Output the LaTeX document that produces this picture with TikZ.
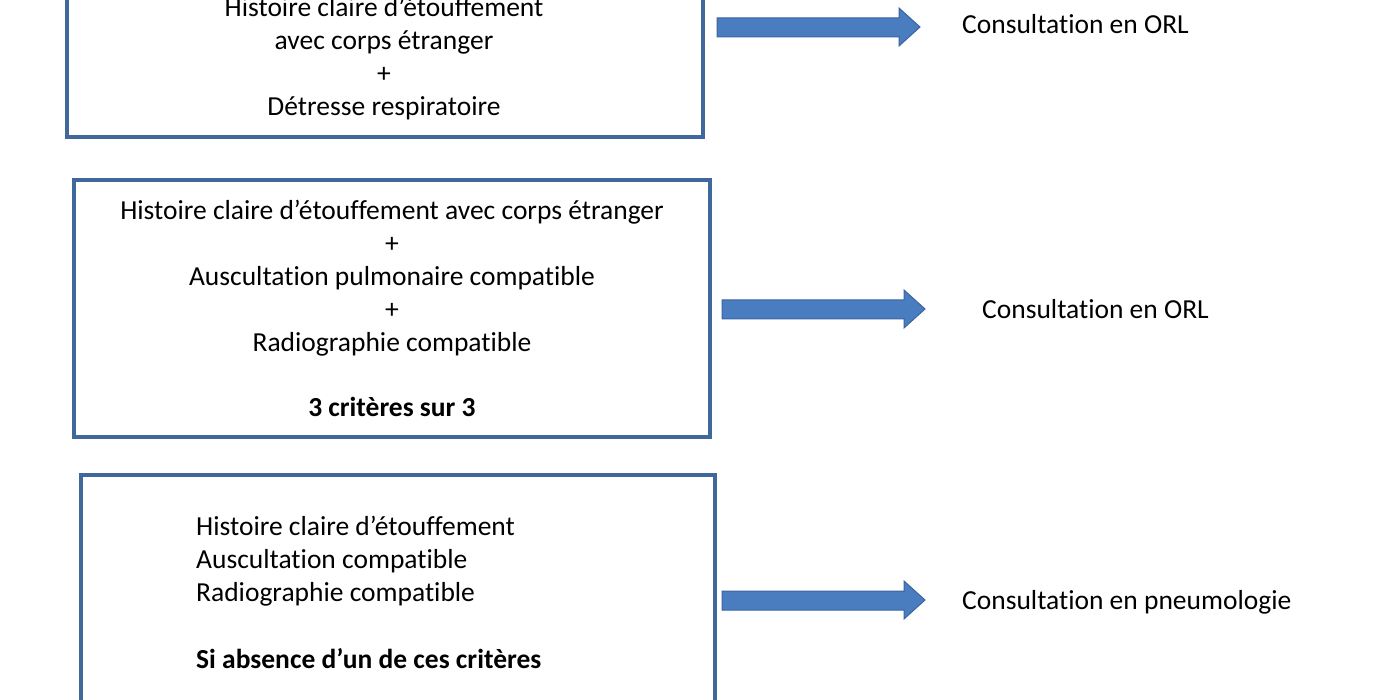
\documentclass[tikz,border=0pt]{standalone}
\usepackage{fontspec}
\setmainfont{Carlito}[Ligatures=NoCommon]
\definecolor{boxblue}{HTML}{41689C}
\definecolor{arrfill}{HTML}{4A7CC0}
\definecolor{arrline}{HTML}{3B64A0}
\begin{document}
\begin{tikzpicture}[x=1pt,y=-1pt,
  box/.style={draw=boxblue,line width=3.5pt},
  txt/.style={font=\fontsize{27.5}{33}\selectfont,inner sep=0pt,anchor=base},
  ltxt/.style={font=\fontsize{27.5}{33}\selectfont,inner sep=0pt,anchor=base west},
  blockarrow/.style={fill=arrfill,draw=arrline,line width=1pt,line join=miter}]
\useasboundingbox (0,0) rectangle (1400,700);
% boxes
\draw[box] (67,-20) rectangle (703,137);
\draw[box] (74,180) rectangle (710,437);
\draw[box] (81,475) rectangle (715,720);
% box 1 text
\node[txt] (a1) at (384,17) {Histoire claire d’étouffement};
\node[txt] (a2) at (384,50) {avec corps étranger};
\node[txt] (a3) at (384,83) {+};
\node[txt] (a4) at (384,116) {Détresse respiratoire};
% box 2 text
\node[txt] (b1) at (392,220) {Histoire claire d’étouffement avec corps étranger};
\node[txt] (b2) at (392,253) {+};
\node[txt] (b3) at (392,286) {Auscultation pulmonaire compatible};
\node[txt] (b4) at (392,319) {+};
\node[txt] (b5) at (392,352) {Radiographie compatible};
\node[txt,font=\fontsize{27.5}{33}\selectfont\bfseries] (b6) at (392,417) {3 critères sur 3};
% box 3 text
\node[ltxt] (c1) at (196,535) {Histoire claire d’étouffement};
\node[ltxt] (c2) at (196,568) {Auscultation compatible};
\node[ltxt] (c3) at (196,601) {Radiographie compatible};
\node[ltxt,font=\fontsize{27.5}{33}\selectfont\bfseries] (c4) at (196,668) {Si absence d’un de ces critères};
% arrows
\draw[blockarrow] (717,18) -- (899,18) -- (899,8) -- (920,27) -- (899,46) -- (899,37) -- (717,37) -- cycle;
\draw[blockarrow] (722,300) -- (904,300) -- (904,290) -- (925,309) -- (904,328) -- (904,319) -- (722,319) -- cycle;
\draw[blockarrow] (722,591) -- (904,591) -- (904,581) -- (925,600) -- (904,619) -- (904,610) -- (722,610) -- cycle;
% right texts
\node[ltxt] (r1) at (962,34) {Consultation en ORL};
\node[ltxt] (r2) at (982,319) {Consultation en ORL};
\node[ltxt] (r3) at (962,609) {Consultation en pneumologie};
\end{tikzpicture}
\end{document}
